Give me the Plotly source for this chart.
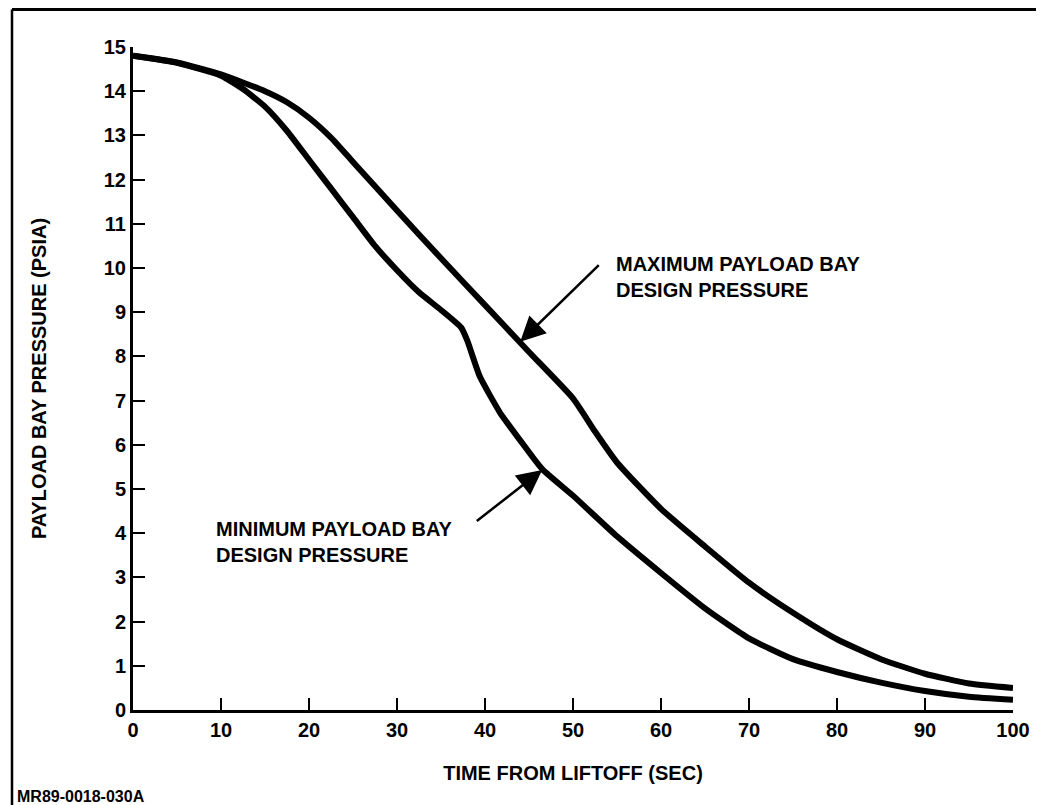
import plotly.graph_objects as go

# Time from liftoff (sec) and pressures (psia)
max_time = [0, 5, 10, 15, 17.5, 20, 22.5, 25, 30, 35, 40, 45, 50, 52.5, 55, 60, 65, 70, 75, 80, 85, 90, 95, 100]
max_pressure = [14.8, 14.65, 14.38, 14.0, 13.75, 13.4, 12.95, 12.4, 11.3, 10.22, 9.16, 8.1, 7.05, 6.3, 5.6, 4.55, 3.7, 2.88, 2.2, 1.6, 1.15, 0.82, 0.6, 0.5]

min_time = [0, 5, 10, 12.5, 15, 17.5, 20, 22.5, 25, 27.5, 30, 32.5, 35, 37.3, 38, 39.4, 41.7, 44, 46.5, 50, 55, 60, 65, 70, 75, 80, 85, 90, 95, 100]
min_pressure = [14.8, 14.64, 14.35, 14.05, 13.65, 13.1, 12.45, 11.8, 11.15, 10.5, 9.95, 9.45, 9.05, 8.65, 8.35, 7.55, 6.73, 6.1, 5.45, 4.85, 3.93, 3.1, 2.3, 1.62, 1.15, 0.86, 0.62, 0.43, 0.3, 0.23]

x_ticks = [0, 10, 20, 30, 40, 50, 60, 70, 80, 90, 100]
y_ticks = list(range(0, 16))

FONT = "Liberation Sans"
BLACK = "#000000"

fig = go.Figure()
fig.add_trace(go.Scatter(x=max_time, y=max_pressure, mode="lines",
                         line=dict(color=BLACK, width=6, shape="spline", smoothing=0.5),
                         name="Maximum", showlegend=False))
fig.add_trace(go.Scatter(x=min_time, y=min_pressure, mode="lines",
                         line=dict(color=BLACK, width=6, shape="spline", smoothing=0.5),
                         name="Minimum", showlegend=False))

fig.update_layout(
    width=1028, height=797,
    margin=dict(l=125, r=23, t=39, b=95),
    paper_bgcolor="white", plot_bgcolor="white",
    font=dict(family=FONT, color=BLACK, size=20),
    xaxis=dict(range=[0, 100], tickvals=x_ticks, ticks="inside", ticklen=12, tickwidth=2,
               tickcolor=BLACK, showline=True, linecolor=BLACK, linewidth=3, showgrid=False,
               zeroline=False, automargin=False,
               tickfont=dict(size=20, family=FONT, weight="bold"),
               title=dict(text="TIME FROM LIFTOFF (SEC)",
                          font=dict(size=20, family=FONT, weight="bold"), standoff=26)),
    yaxis=dict(range=[0, 15], tickvals=y_ticks, ticks="inside", ticklen=12, tickwidth=2,
               tickcolor=BLACK, showline=True, linecolor=BLACK, linewidth=3, showgrid=False,
               zeroline=False, automargin=False,
               tickfont=dict(size=20, family=FONT, weight="bold"),
               title=dict(text="PAYLOAD BAY PRESSURE (PSIA)",
                          font=dict(size=20, family=FONT, weight="bold"), standoff=52)),
)

# Arrows
fig.add_annotation(x=44.0, y=8.33, ax=53.1, ay=10.1, xref="x", yref="y", axref="x", ayref="y",
                   text="", showarrow=True, arrowhead=2, arrowsize=2.0, arrowwidth=2.5, arrowcolor=BLACK)
fig.add_annotation(x=46.5, y=5.43, ax=38.9, ay=4.25, xref="x", yref="y", axref="x", ayref="y",
                   text="", showarrow=True, arrowhead=2, arrowsize=2.0, arrowwidth=2.5, arrowcolor=BLACK)

# Labels
fig.add_annotation(x=54.66, y=9.8, xref="x", yref="y", xanchor="left", yanchor="middle", align="left",
                   text="MAXIMUM PAYLOAD BAY<br>DESIGN PRESSURE", showarrow=False,
                   font=dict(size=20, family=FONT, color=BLACK, weight="bold"))
fig.add_annotation(x=9.2, y=3.81, xref="x", yref="y", xanchor="left", yanchor="middle", align="left",
                   text="MINIMUM PAYLOAD BAY<br>DESIGN PRESSURE", showarrow=False,
                   font=dict(size=20, family=FONT, color=BLACK, weight="bold"))

# Figure id (bottom-left)
fig.add_annotation(x=-0.1341, y=-0.1312, xref="paper", yref="paper", xanchor="left", yanchor="middle",
                   text="<b>MR89-0018-030A</b>", showarrow=False, font=dict(size=16, family=FONT, color=BLACK))

# Page frame (top and left edges)
fig.add_shape(type="line", xref="paper", yref="paper", x0=-0.1375, x1=1.1, y0=1.0566, y1=1.0566,
              line=dict(color=BLACK, width=3))
fig.add_shape(type="line", xref="paper", yref="paper", x0=-0.1375, x1=-0.1375, y0=-0.2, y1=1.0566,
              line=dict(color=BLACK, width=2.5))

fig.write_html("out.html")
